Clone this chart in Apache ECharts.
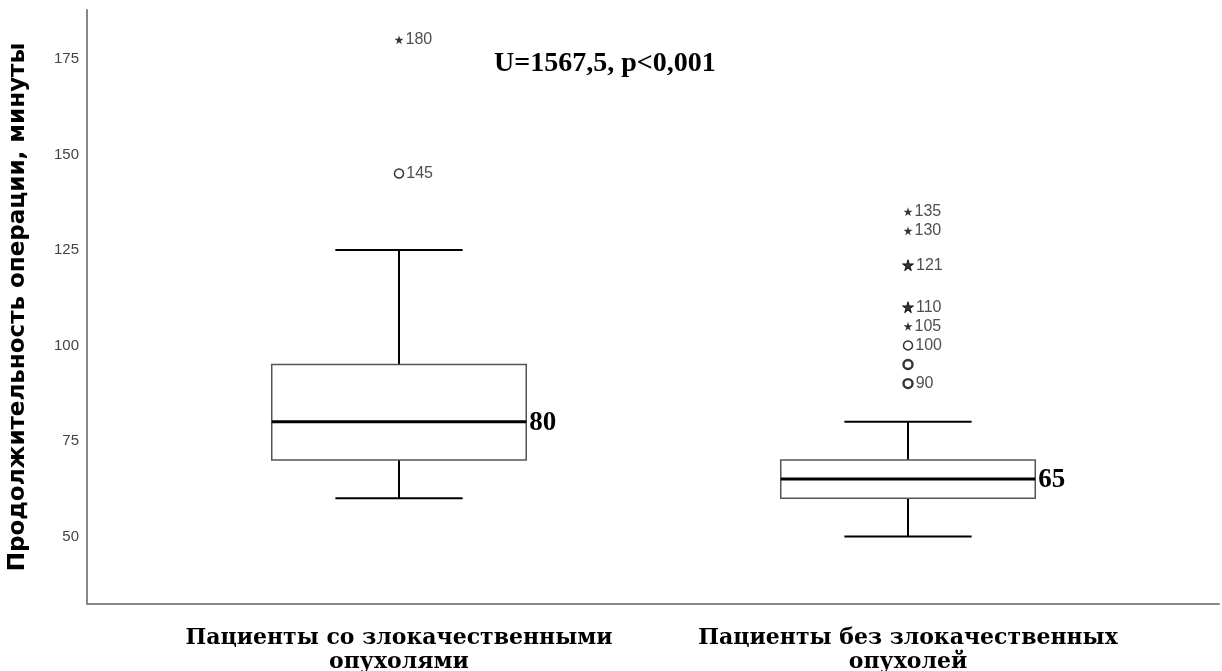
<!DOCTYPE html>
<html>
<head>
<meta charset="utf-8">
<script src="https://cdn.jsdelivr.net/npm/echarts@6/dist/echarts.min.js"></script>
<style>
  html, body { margin: 0; padding: 0; background: #fff; }
  #chart { width: 1222px; height: 671px; }
</style>
</head>
<body>
<div id="chart"></div>
<script>
// Operation duration (minutes) by patient group
const categories = ['Пациенты со злокачественными\nопухолями', 'Пациенты без злокачественных\nопухолей'];
const whiskerLow = [60, 50];
const quartile1 = [70, 60];
const medians = [80, 65];
const quartile3 = [95, 70];
const whiskerHigh = [125, 80];
const yTicks = [50, 75, 100, 125, 150, 175];

// Outliers: [group index, value, label, number of cases]
const mildOutliers = [[0, 145, '145', 1], [1, 100, '100', 1], [1, 95, '', 2], [1, 90, '90', 2]];
const extremeOutliers = [[0, 180, '180', 1], [1, 135, '135', 1], [1, 130, '130', 1], [1, 121, '121', 3], [1, 110, '110', 2], [1, 105, '105', 1]];

const statText = 'U=1567,5, p<0,001';
const axisTitle = 'Продолжительность операции, минуты';

const STAR = 'path://M50,0 L61,35 L98,35 L68,57 L79,91 L50,70 L21,91 L32,57 L2,35 L39,35 Z';
const SANS = '"Liberation Sans", Arial, sans-serif';
const WIDE_SANS = '"DejaVu Sans", sans-serif';
const SERIF = '"Liberation Serif", "Times New Roman", serif';
const WIDE_SERIF = '"DejaVu Serif", serif';

const boxData = categories.map((c, i) => [i + 1, whiskerLow[i], quartile1[i], medians[i], quartile3[i], whiskerHigh[i]]);

function renderBox(params, api) {
  const x = api.value(0);
  const lo = api.coord([x, api.value(1)]);
  const b1 = api.coord([x, api.value(2)]);
  const md = api.coord([x, api.value(3)]);
  const b3 = api.coord([x, api.value(4)]);
  const hi = api.coord([x, api.value(5)]);
  const half = api.size([0.5, 0])[0] / 2;
  const cap = api.size([0.25, 0])[0] / 2;
  const cx = Math.round(md[0]);
  const whisker = { stroke: '#000', lineWidth: 2 };
  return {
    type: 'group',
    children: [
      { type: 'line', shape: { x1: cx, y1: lo[1], x2: cx, y2: b1[1] }, style: whisker },
      { type: 'line', shape: { x1: cx, y1: hi[1], x2: cx, y2: b3[1] }, style: whisker },
      { type: 'line', shape: { x1: cx - cap, y1: lo[1], x2: cx + cap, y2: lo[1] }, style: whisker },
      { type: 'line', shape: { x1: cx - cap, y1: hi[1], x2: cx + cap, y2: hi[1] }, style: whisker },
      { type: 'rect', shape: { x: cx - half, y: b3[1], width: 2 * half, height: b1[1] - b3[1] },
        style: { fill: '#fff', stroke: '#555', lineWidth: 1.5 } },
      { type: 'line', shape: { x1: cx - half, y1: md[1], x2: cx + half, y2: md[1] },
        style: { stroke: '#000', lineWidth: 3 } },
      { type: 'text', x: cx + half + 3, y: md[1] + 1,
        style: { text: String(api.value(3)), font: 'bold 27px ' + SERIF, fill: '#000',
                 align: 'left', verticalAlign: 'middle' } }
    ]
  };
}

function outlierData(list, bold) {
  return list.map(o => ({
    value: [o[0] + 1, o[1]],
    name: o[2],
    symbolSize: o[3] > 1 ? bold[1] : bold[0],
    itemStyle: { borderWidth: o[3] > 1 ? bold[3] : bold[2] }
  }));
}

const outlierLabel = {
  show: true, position: 'right', distance: 2,
  formatter: p => p.name,
  fontFamily: SANS, fontSize: 16, color: '#222'
};

const chart = echarts.init(document.getElementById('chart'), null, { renderer: 'canvas' });
chart.setOption({
  animation: false,
  backgroundColor: '#fff',
  grid: { left: 87, right: 3, top: 10, bottom: 67, containLabel: false, outerBoundsMode: 'none' },
  xAxis: {
    type: 'value', min: 0.387, max: 2.611,
    axisLine: { show: true, onZero: false, lineStyle: { color: '#888', width: 2 } },
    axisTick: { show: false },
    splitLine: { show: false },
    axisLabel: {
      customValues: [1, 2],
      formatter: v => categories[Math.round(v) - 1],
      fontFamily: WIDE_SERIF, fontWeight: 'bold', fontSize: 22, color: '#000',
      lineHeight: 24, margin: 22, align: 'center'
    }
  },
  yAxis: {
    type: 'value', min: 32.3, max: 187.8,
    name: axisTitle, nameLocation: 'middle', nameGap: 57,
    nameTextStyle: { fontFamily: WIDE_SANS, fontWeight: 'bold', fontSize: 23, color: '#000' },
    axisLine: { show: true, lineStyle: { color: '#888', width: 2 } },
    axisTick: { show: false },
    splitLine: { show: false },
    axisLabel: { customValues: yTicks, fontFamily: SANS, fontSize: 15, color: '#444', margin: 8 }
  },
  graphic: [{
    type: 'text', left: 494, top: 50,
    style: { text: statText, font: 'bold 28px ' + SERIF, fill: '#000' }
  }],
  series: [
    {
      type: 'custom', renderItem: renderBox, data: boxData,
      encode: { x: 0, y: [1, 2, 3, 4, 5] }, z: 2
    },
    {
      type: 'scatter', symbol: 'circle', data: outlierData(mildOutliers, [9, 9, 1.5, 2.4]),
      itemStyle: { color: '#fff', borderColor: '#000' },
      label: outlierLabel, z: 3
    },
    {
      type: 'scatter', symbol: STAR, data: outlierData(extremeOutliers, [9, 11, 0, 1]),
      itemStyle: { color: '#000', borderColor: '#000' },
      label: outlierLabel, z: 3
    }
  ]
});
</script>
</body>
</html>
